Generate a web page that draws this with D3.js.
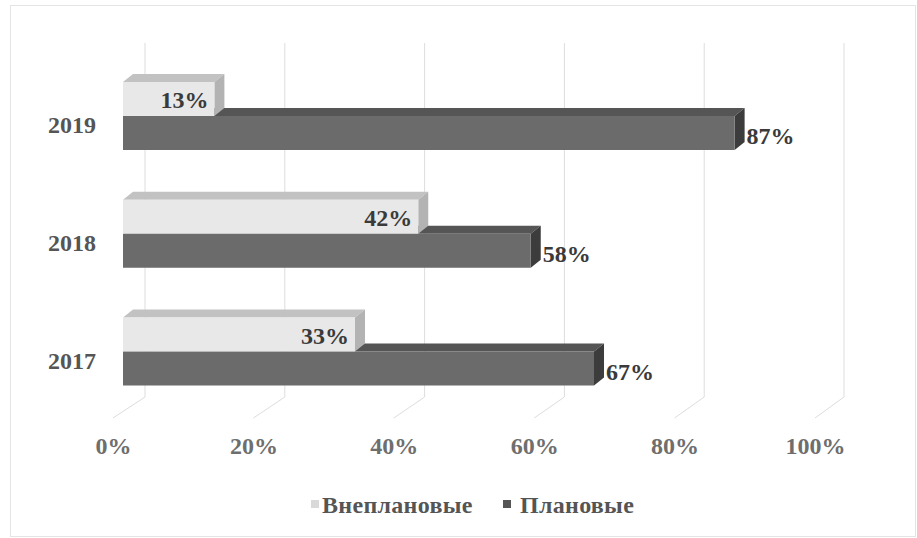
<!DOCTYPE html>
<html>
<head>
<meta charset="utf-8">
<script src="https://cdn.jsdelivr.net/npm/d3@7"></script>
<style>
  html, body { margin: 0; padding: 0; background: #fff; }
  svg { display: block; }
  text { font-family: "Liberation Serif", "Times New Roman", serif; font-weight: bold; }
</style>
</head>
<body>
<svg id="chart" width="917" height="538"></svg>
<script>
// ---- data ----
const categories = ["2019", "2018", "2017"];
const seriesNames = ["Внеплановые", "Плановые"];
const unplanned = [13, 42, 33];   // Внеплановые
const planned   = [87, 58, 67];   // Плановые
const tickValues = [0, 20, 40, 60, 80, 100];

const svg = d3.select("#chart");

// border
svg.append("rect").attr("x", 10.5).attr("y", 5.5).attr("width", 905).attr("height", 531)
  .attr("fill", "#fff").attr("stroke", "#e4e4e4").attr("stroke-width", 1);

// scales
const xBack  = d3.scaleLinear().domain([0, 100]).range([145, 844]);
const xFront = d3.scaleLinear().domain([0, 100]).range([123, 826]);
const xFloor = d3.scaleLinear().domain([0, 100]).range([113, 815]);
const yCat = d3.scalePoint().domain(categories).range([116, 351.5]);
const ySer = d3.scaleBand().domain(seriesNames).range([-34, 34]);

const wallTop = 43, wallBottom = 397, floorFront = 418;
const dx = 10, dy = -8;

// gridlines (back wall + floor)
const grid = svg.append("g");
tickValues.forEach(v => {
  grid.append("line").attr("x1", xBack(v)).attr("x2", xBack(v))
    .attr("y1", wallTop).attr("y2", wallBottom)
    .attr("stroke", "#dddddd").attr("stroke-width", 1);
  grid.append("line").attr("x1", xBack(v)).attr("y1", wallBottom)
    .attr("x2", xFloor(v)).attr("y2", floorFront)
    .attr("stroke", "#dddddd").attr("stroke-width", 1);
});

// colors
const colors = {
  "Внеплановые": { front: "#e8e8e8", top: "#c2c2c2", side: "#b3b3b3", label: "#3a3a3a" },
  "Плановые":    { front: "#6b6b6b", top: "#555555", side: "#3c3c3c", label: "#3a3a3a" }
};

const rows = categories.map((c, i) => ({ cat: c, values: [
  { name: "Плановые", v: planned[i] },
  { name: "Внеплановые", v: unplanned[i] }
]}));

const bars = svg.append("g");
rows.forEach(r => {
  r.values.forEach(d => {
    const col = colors[d.name];
    const x0 = xFront(0), x1 = xFront(d.v);
    const y0 = yCat(r.cat) + ySer(d.name), y1 = y0 + ySer.bandwidth();
    const g = bars.append("g");
    g.append("polygon")
      .attr("points", [[x0, y0], [x1, y0], [x1 + dx, y0 + dy], [x0 + dx, y0 + dy]].map(p => p.join(",")).join(" "))
      .attr("fill", col.top);
    g.append("polygon")
      .attr("points", [[x1, y0], [x1 + dx, y0 + dy], [x1 + dx, y1 + dy], [x1, y1]].map(p => p.join(",")).join(" "))
      .attr("fill", col.side);
    g.append("rect").attr("x", x0).attr("y", y0).attr("width", x1 - x0).attr("height", y1 - y0)
      .attr("fill", col.front);
    const cy = (y0 + y1) / 2 + 1;
    if (d.name === "Внеплановые") {
      g.append("text").attr("x", x1 - 6).attr("y", cy).attr("text-anchor", "end")
        .attr("dominant-baseline", "central").attr("font-size", 24).attr("fill", col.label)
        .text(d.v + "%");
    } else {
      g.append("text").attr("x", x1 + dx + 2).attr("y", cy + 2).attr("text-anchor", "start")
        .attr("dominant-baseline", "central").attr("font-size", 24).attr("fill", col.label)
        .text(d.v + "%");
    }
  });
});

// category labels
svg.append("g").selectAll("text").data(categories).join("text")
  .attr("x", 96).attr("y", d => yCat(d) + 9)
  .attr("text-anchor", "end").attr("dominant-baseline", "central")
  .attr("font-size", 24).attr("fill", "#555")
  .text(d => d);

// x axis tick labels
const axis = d3.axisBottom(xFloor).tickValues(tickValues).tickSize(0).tickFormat(d => d + "%");
const ag = svg.append("g").attr("transform", "translate(0,434)").call(axis);
ag.select(".domain").remove();
ag.selectAll("text").attr("font-size", 24).attr("fill", "#6e6e6e")
  .attr("font-family", '"Liberation Serif", "Times New Roman", serif').attr("font-weight", "bold");

// legend
const legend = svg.append("g");
const legendItems = [
  { name: "Внеплановые", mx: 311, tx: 322, color: "#d9d9d9" },
  { name: "Плановые", mx: 503, tx: 520, color: "#555" }
];
legendItems.forEach(it => {
  legend.append("rect").attr("x", it.mx).attr("y", 500).attr("width", 8).attr("height", 8).attr("fill", it.color);
  legend.append("text").attr("x", it.tx).attr("y", 505).attr("dominant-baseline", "central")
    .attr("font-size", 24).attr("letter-spacing", 0.3).attr("fill", "#555").text(it.name);
});
</script>
</body>
</html>
